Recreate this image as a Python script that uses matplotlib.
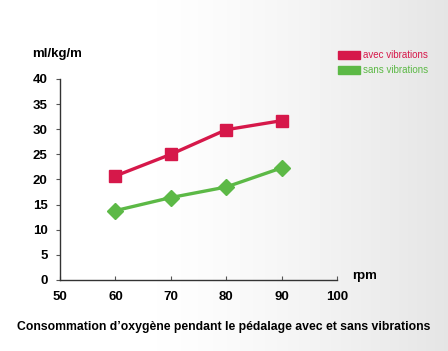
import matplotlib
matplotlib.use("Agg")
import matplotlib.pyplot as plt
import numpy as np

rpm = [60, 70, 80, 90]
avec = [20.7, 25.0, 29.9, 31.7]
sans = [13.8, 16.4, 18.5, 22.3]
xticks = [50, 60, 70, 80, 90, 100]
yticks = [0, 5, 10, 15, 20, 25, 30, 35, 40]
red = "#d6184a"
green = "#5cb946"

plt.rcParams['font.family'] = ['Liberation Sans', 'DejaVu Sans']
fig = plt.figure(figsize=(4.48, 3.51), dpi=100)

# background gradient
bg = fig.add_axes([0, 0, 1, 1], zorder=-10)
w = np.linspace(0, 1, 448)
grad = 1 - 0.10 * np.clip((w - 0.35) / 0.65, 0, 1) ** 1.3
img = np.tile(grad, (351, 1))
bg.imshow(np.dstack([img, img, img]), aspect='auto', extent=[0, 1, 0, 1])
bg.axis('off')

ax = fig.add_axes([0.134, 0.2023, 0.618, 0.5727])
ax.patch.set_alpha(0)
ax.plot(rpm, avec, color=red, lw=2.4, marker='s', ms=8.5, label='avec vibrations', clip_on=False)
ax.plot(rpm, sans, color=green, lw=2.4, marker='D', ms=8.5, label='sans vibrations', clip_on=False)
ax.set_xlim(50, 100)
ax.set_ylim(0, 40)
ax.set_xticks(xticks)
ax.set_yticks(yticks)
for s in ['top', 'right']:
    ax.spines[s].set_visible(False)
for s in ['left', 'bottom']:
    ax.spines[s].set_color('#333333')
    ax.spines[s].set_linewidth(1.0)
ax.tick_params(axis='x', direction='in', length=3, color='#555555', pad=8, labelsize=9.5)
ax.tick_params(axis='y', direction='out', length=3, color='#555555', pad=6, labelsize=9.5)
for lab in ax.get_xticklabels() + ax.get_yticklabels():
    lab.set_fontweight('bold')

fig.text(0.072, 0.845, 'ml/kg/m', fontsize=9.5, fontweight='bold', ha='left', va='center')
fig.text(0.785, 0.213, 'rpm', fontsize=9.5, fontweight='bold', ha='left', va='center')

# legend
from matplotlib.patches import Rectangle
fig.patches.append(Rectangle((0.754, 0.832), 0.05, 0.022, color=red, transform=fig.transFigure))
fig.text(0.81, 0.843, 'avec vibrations', color=red, fontsize=7, ha='left', va='center')
fig.patches.append(Rectangle((0.754, 0.790), 0.05, 0.022, color=green, transform=fig.transFigure))
fig.text(0.81, 0.801, 'sans vibrations', color=green, fontsize=7, ha='left', va='center')

fig.text(0.5, 0.068, "Consommation d\u2019oxygène pendant le pédalage avec et sans vibrations",
         fontsize=8.8, fontweight='bold', ha='center', va='center')

fig.savefig('out.png', dpi=100)
